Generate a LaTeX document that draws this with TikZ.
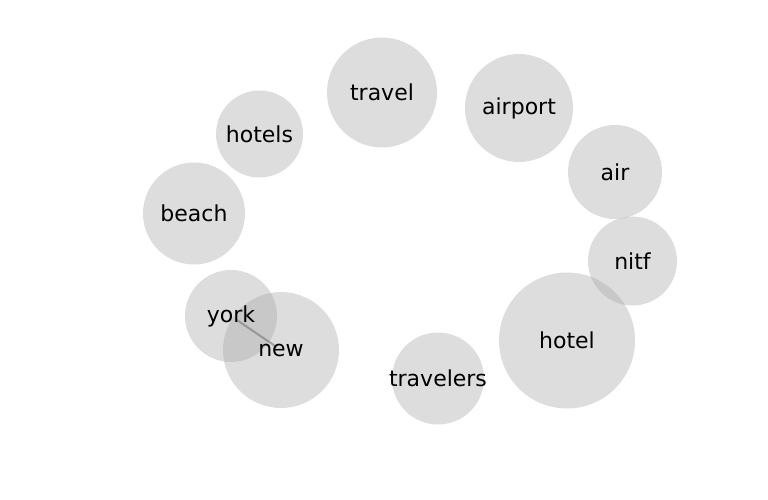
\documentclass[tikz,border=0pt]{standalone}
\usepackage{fontspec}
\setmainfont{DejaVu Sans}
\usetikzlibrary{calc}

\begin{document}
\begin{tikzpicture}[x=1pt, y=-1pt,
    bubble/.style={circle, inner sep=0pt, fill=black!35, fill opacity=0.38},
    word/.style={inner sep=0pt, text=black, font=\fontsize{22}{26}\selectfont},
    link/.style={draw=black!60, opacity=0.5, line width=2pt}]
    \useasboundingbox (0,0) rectangle (768,500);

    %Bubbles
    \node (travel) at (382,92.5) [bubble, minimum size=110pt]{};
    \node (airport) at (519,108) [bubble, minimum size=108pt]{};
    \node (hotels) at (259.5,134) [bubble, minimum size=87pt]{};
    \node (air) at (615,172) [bubble, minimum size=94pt]{};
    \node (beach) at (194,213.5) [bubble, minimum size=102pt]{};
    \node (nitf) at (632.5,261) [bubble, minimum size=89pt]{};
    \node (york) at (231,316) [bubble, minimum size=92pt]{};
    \node (new) at (281,350) [bubble, minimum size=116pt]{};
    \node (travelers) at (438,378.5) [bubble, minimum size=92pt]{};
    \node (hotel) at (567,340.5) [bubble, minimum size=136pt]{};

    %Edges
    \draw[link, shorten <=6pt, shorten >=5pt] (york.center) -- (new.center);

    %Labels
    \foreach \w in {travel,airport,hotels,air,beach,nitf,york,new,travelers,hotel}
      \node (\w-label) at (\w) [word]{\w};

\end{tikzpicture}
\end{document}
